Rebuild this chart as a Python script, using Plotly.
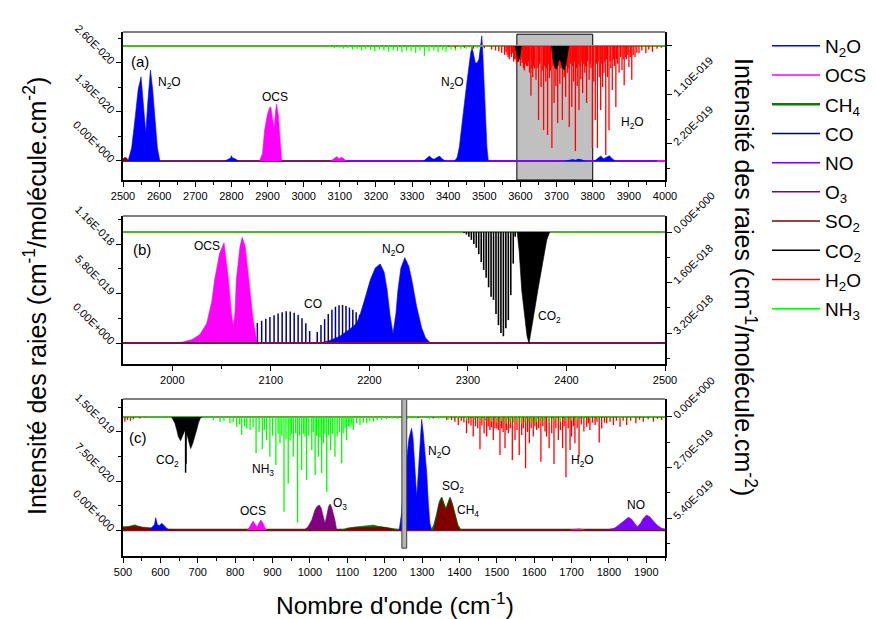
import plotly.graph_objects as go

# ======================= DATA =======================
# units: panel (a) left 1e-20, right 1e-19 ; (b) left 1e-19, right 1e-18 ; (c) left 1e-20, right 1e-19
UA_L, UA_R = 1e-20, 1e-19
UB_L, UB_R = 1e-19, 1e-18
UC_L, UC_R = 1e-20, 1e-19

SPECIES = ["N2O", "OCS", "CH4", "CO", "NO", "O3", "SO2", "CO2", "H2O", "NH3"]
LEGEND_TEXT = ["N<sub>2</sub>O", "OCS", "CH<sub>4</sub>", "CO", "NO", "O<sub>3</sub>",
               "SO<sub>2</sub>", "CO<sub>2</sub>", "H<sub>2</sub>O", "NH<sub>3</sub>"]
COLORS = {"N2O": "#0000FF", "OCS": "#FF00FF", "CH4": "#008000", "CO": "#000080", "NO": "#8000FF",
          "O3": "#800080", "SO2": "#800000", "CO2": "#000000", "H2O": "#FF0000", "NH3": "#00FF00"}

# ---------- panel (a) ----------
A_N2O_1_X = [2514, 2524, 2533, 2542, 2550, 2556, 2563, 2569, 2576, 2582, 2588, 2595, 2602]
A_N2O_1_V = [0, 0.35, 1.09, 1.9, 2.23, 1.5, 0.74, 1.6, 2.41, 1.9, 1.09, 0.35, 0]
A_N2O_2_X = [2782, 2792, 2798, 2800, 2803, 2810, 2820]
A_N2O_2_V = [0, 0.05, 0.08, 0.14, 0.08, 0.06, 0]
A_N2O_3_X = [3332, 3340, 3348, 3356, 3362, 3370, 3376, 3384, 3392]
A_N2O_3_V = [0, 0.07, 0.13, 0.06, 0.05, 0.1, 0.13, 0.05, 0]
A_N2O_4_X = [3418, 3425, 3431, 3438, 3445, 3452, 3458, 3462, 3466, 3470, 3475, 3480, 3485, 3489,
             3493, 3496, 3500, 3504, 3507, 3511]
A_N2O_4_V = [0, 0.1, 0.38, 0.9, 1.54, 2.1, 2.6, 2.85, 3.02, 2.8, 2.6, 2.6, 2.7, 3.0, 3.32, 2.8,
             1.97, 1.0, 0.38, 0]
A_N2O_5_X = [3725, 3735, 3745, 3752, 3760, 3770, 3778]
A_N2O_5_V = [0, 0.02, 0.04, 0.02, 0.05, 0.03, 0]
A_N2O_6_X = [3805, 3815, 3822, 3830, 3840, 3846, 3855, 3862]
A_N2O_6_V = [0, 0.08, 0.13, 0.06, 0.1, 0.14, 0.05, 0]
A_OCS_1_X = [2878, 2886, 2892, 2900, 2906, 2909, 2914, 2918, 2922, 2925, 2930, 2934, 2939]
A_OCS_1_V = [0, 0.2, 0.82, 1.25, 1.42, 1.43, 1.1, 0.85, 1.3, 1.51, 1.2, 0.64, 0]
A_OCS_2_X = [3075, 3085, 3092, 3098, 3104, 3110, 3118]
A_OCS_2_V = [0, 0.08, 0.12, 0.06, 0.1, 0.07, 0]
A_SO2_X = [2500, 2505, 2510, 2516]
A_SO2_V = [0.05, 0.1, 0.08, 0]
A_O3_BASE_X = [2500, 3100]
A_NO_BASE_X = [3100, 3980]
A_OCS_BASE_X = [3980, 4000]
A_NH3_BASE_X = [2500, 4000]
A_CO2_1_X = [3585, 3590, 3594, 3598, 3603]
A_CO2_1_V = [0, 0.25, 0.35, 0.25, 0]
A_CO2_2_X = [3686, 3690, 3695, 3700, 3705, 3710, 3716, 3722, 3728, 3734]
A_CO2_2_V = [0, 0.3, 0.48, 0.52, 0.35, 0.3, 0.5, 0.54, 0.3, 0]
A_H2O_POS = [3402, 3420, 3445, 3470, 3500, 3520, 3531, 3540, 3548, 3556, 3560, 3566, 3571, 3578,
             3584, 3592, 3597, 3605, 3611, 3617, 3625, 3629, 3634, 3639, 3643, 3650, 3657, 3664,
             3670, 3675, 3680, 3687, 3693, 3698, 3703, 3709, 3716, 3721, 3725, 3730, 3735, 3742,
             3747, 3752, 3757, 3762, 3767, 3772, 3778, 3783, 3790, 3795, 3799, 3803, 3807, 3813,
             3818, 3822, 3827, 3831, 3836, 3841, 3845, 3850, 3854, 3860, 3864, 3869, 3873, 3881,
             3887, 3893, 3900, 3908, 3917, 3922, 3928, 3936, 3947, 3955, 3965, 3978, 3990,
             3563, 3569, 3575, 3581, 3587, 3589, 3595, 3600, 3602, 3608, 3614, 3620, 3622, 3631,
             3636, 3646, 3653, 3660, 3667, 3672, 3677, 3683, 3690, 3695, 3700, 3706, 3712, 3719,
             3727, 3732, 3738, 3744, 3750, 3755, 3760, 3765, 3770, 3775, 3780, 3786, 3793, 3801,
             3810, 3815, 3825, 3833, 3838, 3848, 3857, 3866, 3877, 3884, 3890, 3897, 3904, 3912]
A_H2O_INT = [0.03, 0.05, 0.04, 0.06, 0.05, 0.08, 0.1, 0.12, 0.15, 0.2, 0.13, 0.25, 0.18, 0.16,
             0.3, 0.36, 0.28, 0.38, 0.55, 0.45, 0.6, 1.12, 0.7, 0.5, 0.76, 1.66, 0.92, 1.89,
             0.8, 2.0, 0.72, 2.29, 1.28, 0.9, 1.73, 0.85, 1.66, 0.7, 1.14, 0.6, 1.82, 1.37,
             0.8, 2.36, 0.9, 1.44, 0.75, 1.06, 0.6, 1.28, 0.76, 0.5, 2.29, 0.8, 1.66, 2.29,
             0.7, 1.44, 0.92, 0.6, 2.45, 0.7, 1.89, 0.5, 0.99, 0.45, 1.37, 0.4, 0.6, 0.54,
             0.88, 0.3, 0.47, 0.76, 0.25, 0.15, 0.16, 0.1, 0.16, 0.08, 0.13, 0.06, 0.04,
             0.2, 0.3, 0.25, 0.35, 0.3, 0.4, 0.35, 0.45, 0.3, 0.5, 0.4, 0.45, 0.35, 0.5,
             0.45, 0.5, 0.4, 0.55, 0.45, 0.5, 0.4, 0.55, 0.45, 0.5, 0.4, 0.45, 0.5, 0.4,
             0.45, 0.5, 0.4, 0.45, 0.35, 0.5, 0.4, 0.45, 0.35, 0.4, 0.45, 0.35, 0.4, 0.45,
             0.4, 0.35, 0.4, 0.35, 0.3, 0.35, 0.3, 0.3, 0.25, 0.3, 0.25, 0.2, 0.25, 0.2]
A_NH3_POS = [3070, 3085, 3098, 3110, 3122, 3135, 3148, 3160, 3172, 3185, 3197, 3210, 3222, 3235,
             3248, 3260, 3272, 3285, 3297, 3310, 3322, 3334, 3347, 3360, 3372, 3385, 3394, 3408,
             3420, 3435, 3450, 3465, 3480, 3500, 3520, 3545]
A_NH3_INT = [0.03, 0.05, 0.04, 0.06, 0.05, 0.08, 0.06, 0.1, 0.07, 0.09, 0.12, 0.08, 0.1, 0.13,
             0.09, 0.11, 0.14, 0.1, 0.12, 0.15, 0.1, 0.22, 0.12, 0.1, 0.14, 0.09, 0.13, 0.08,
             0.1, 0.07, 0.06, 0.08, 0.05, 0.04, 0.05, 0.03]

# ---------- panel (b) ----------
B_OCS_X = [1995, 2010, 2020, 2028, 2035, 2040, 2043, 2048, 2052.5, 2057, 2060, 2062, 2063.6, 2065,
           2068.7, 2071, 2074, 2077, 2082, 2086]
B_OCS_V = [0, 0.1, 0.4, 1.0, 2.3, 4.8, 7.4, 10.5, 11.75, 7.4, 3.5, 1.9, 3.5, 7.4, 11.3, 12.38,
           11.3, 8.2, 2.7, 0]
B_CO_POS = [2046.1, 2050.7, 2055.3, 2059.8, 2064.3, 2068.8, 2073.2, 2077.6, 2082.0, 2086.3, 2090.7,
            2094.9, 2099.1, 2103.3, 2107.4, 2111.5, 2115.6, 2119.7, 2123.7, 2127.7, 2131.6, 2135.5,
            2139.4, 2147.1, 2150.9, 2154.6, 2158.3, 2162.0, 2165.6, 2169.2, 2172.8, 2176.3, 2179.8,
            2183.2, 2186.6, 2190.0, 2193.4, 2196.7, 2200.0, 2203.3, 2206.5, 2209.7, 2212.8, 2216.0,
            2219.1, 2222.2, 2225.2]
B_CO_INT = [0.3, 0.45, 0.65, 0.85, 1.1, 1.35, 1.6, 1.85, 2.1, 2.35, 2.6, 2.85, 3.05, 3.25, 3.45,
            3.6, 3.72, 3.7, 3.55, 3.3, 2.9, 2.3, 1.4, 1.3, 2.1, 2.8, 3.4, 3.9, 4.25, 4.42, 4.45,
            4.35, 4.15, 3.9, 3.6, 3.3, 2.95, 2.6, 2.25, 1.95, 1.65, 1.4, 1.15, 0.95, 0.75, 0.6, 0.45]
B_N2O_X = [2150, 2160, 2170, 2180, 2187, 2190, 2195, 2201, 2206, 2211, 2215, 2218, 2221, 2224,
           2227, 2229, 2232, 2236, 2240, 2243, 2248, 2253, 2257, 2262]
B_N2O_V = [0, 0.3, 0.8, 1.6, 2.3, 3.1, 5.0, 7.4, 8.8, 9.26, 8.3, 6.2, 3.2, 1.1, 3.5, 6.2, 8.8,
           10.0, 9.0, 7.4, 4.25, 1.8, 0.6, 0]
B_CO2_P_POS = [2296, 2298.5, 2301, 2303.5, 2306, 2308.5, 2311, 2313.5, 2316, 2318.5, 2321, 2323.5,
               2326, 2328.5, 2331, 2333.5, 2336, 2338.5, 2341, 2343.5, 2346, 2348]
B_CO2_P_INT = [0.03, 0.08, 0.15, 0.25, 0.38, 0.5, 0.7, 0.95, 1.2, 1.45, 1.75, 2.05, 2.15, 2.6,
               2.95, 3.2, 3.3, 3.05, 2.79, 2.0, 1.0, 0.15]
B_CO2_R_X = [2350, 2352, 2354.6, 2358, 2360, 2362, 2364, 2366, 2371, 2376.5, 2380, 2383]
B_CO2_R_V = [0, 0.6, 1.84, 2.89, 3.3, 3.53, 3.2, 2.79, 1.84, 0.78, 0.25, 0]
B_O3_BASE_X = [1950, 2500]
B_NH3_BASE_X = [1950, 2500]

# ---------- panel (c) ----------
C_N2O_1_X = [570, 578, 584, 587.5, 592, 598, 603.5, 610, 618, 624]
C_N2O_1_V = [0, 0.4, 0.8, 1.88, 0.8, 0.7, 1.03, 0.7, 0.2, 0]
C_N2O_2_X = [1239, 1245, 1250, 1255, 1259, 1265, 1272, 1276, 1279, 1283, 1285.7, 1288, 1292, 1296,
             1299, 1303, 1308, 1312.5, 1317, 1321, 1326]
C_N2O_2_V = [0, 2.5, 6.1, 9.0, 11.2, 14.0, 15.57, 14.0, 11.2, 7.0, 5.1, 7.0, 11.2, 15.0, 16.94,
             15.0, 12.0, 8.7, 4.0, 1.0, 0]
C_OCS_1_X = [831, 837, 843, 848.6, 853, 859, 864, 869, 875, 880, 884.4]
C_OCS_1_V = [0, 0.3, 0.9, 1.38, 0.9, 0.51, 1.1, 1.53, 1.0, 0.3, 0]
C_OCS_2_X = [1695, 1705, 1712, 1720, 1728, 1735]
C_OCS_2_V = [0, 0.1, 0.15, 0.2, 0.1, 0]
C_O3_X = [985, 995, 1005, 1010, 1013.6, 1019, 1025, 1030, 1035, 1040.4, 1045, 1050, 1054, 1058,
          1063, 1067, 1071.7]
C_O3_V = [0, 0.5, 1.53, 2.4, 3.06, 3.6, 3.83, 3.4, 2.0, 1.03, 2.2, 3.6, 3.98, 3.5, 2.4, 1.53, 0]
C_CH4_X = [1326, 1332, 1339, 1346, 1352.5, 1358, 1364, 1370, 1375, 1381, 1388, 1396, 1404]
C_CH4_V = [0, 0.8, 2.3, 4.2, 5.0, 4.0, 3.2, 4.2, 5.0, 4.0, 2.3, 0.7, 0]
C_SO2_X = [1330, 1335, 1339, 1346, 1352.5, 1358, 1364, 1370, 1375, 1381, 1388, 1395, 1401.6]
C_SO2_V = [0, 0.9, 2.04, 3.9, 4.85, 3.8, 3.06, 4.0, 4.85, 3.8, 2.04, 0.6, 0]
C_CH4_LOW1_X = [500, 515, 525, 532, 540, 548, 560]
C_CH4_LOW1_V = [0.5, 0.55, 0.7, 0.8, 0.6, 0.5, 0]
C_SO2_LOW1_X = [500, 510, 520, 530, 540, 550, 560, 575, 600, 630, 640]
C_SO2_LOW1_V = [0.35, 0.45, 0.55, 0.6, 0.5, 0.45, 0.4, 0.3, 0.2, 0.1, 0]
C_CH4_LOW2_X = [1085, 1100, 1120, 1140, 1160, 1170, 1180, 1195, 1210, 1225, 1240]
C_CH4_LOW2_V = [0, 0.3, 0.45, 0.55, 0.7, 0.75, 0.6, 0.5, 0.4, 0.2, 0]
C_SO2_LOW2_X = [1090, 1110, 1130, 1150, 1170, 1190, 1210, 1230]
C_SO2_LOW2_V = [0, 0.3, 0.4, 0.45, 0.5, 0.45, 0.3, 0]
C_NO_X = [1795, 1805, 1815, 1825, 1835, 1845, 1852, 1860, 1868, 1876, 1884, 1892, 1901, 1910,
          1920, 1930, 1940, 1950]
C_NO_V = [0, 0.1, 0.3, 0.7, 1.2, 1.7, 1.94, 1.7, 1.0, 0.5, 1.0, 1.8, 2.3, 2.0, 1.3, 0.7, 0.3, 0.1]
C_SO2_BASE_X = [500, 1950]
C_NH3_BASE_X = [500, 1950]
C_CO2_X = [630, 635, 639, 644, 648, 654, 660, 666, 672, 677, 681, 686, 692.6, 697, 701.5, 706, 711]
C_CO2_V = [0, 0.15, 0.34, 0.7, 1.05, 1.27, 0.95, 0.69, 1.0, 1.45, 1.69, 1.45, 1.05, 0.7, 0.34, 0.1, 0]
C_CO2_Q_POS = [667.5, 668.5]
C_CO2_Q_INT = [2.98, 2.5]
C_NH3_POS = [520, 560, 600, 640, 700, 720, 741.6, 759.5, 770, 786, 795, 804, 812, 817.5, 825, 831,
             840, 848, 856, 864, 872.7, 878, 884, 893, 900, 909, 915, 920, 925, 930.7, 936, 942,
             947, 951, 955.6, 962, 967, 972, 978, 983, 987, 991, 997, 1005, 1009, 1014, 1018,
             1022.5, 1027, 1031.5, 1036, 1040, 1045, 1050, 1055.6, 1061, 1067, 1073, 1079, 1085,
             1089, 1094, 1098, 1103, 1107, 1112, 1116, 1125, 1134, 1143, 1152, 1160, 1170, 1180,
             1192, 1205, 1220, 1235, 1262, 1285, 1320, 1345, 1370, 1395, 1420, 1440, 1455, 1470,
             1485, 1500, 1512, 1525, 1535, 1545, 1555, 1565, 1575, 1585, 1595, 1605, 1615, 1625,
             1640, 1655, 1670, 1685, 1700, 1715, 1730, 1750, 1770, 1800, 1830, 1860]
C_NH3_INT = [0.03, 0.03, 0.05, 0.04, 0.06, 0.08, 0.16, 0.25, 0.2, 0.34, 0.25, 0.52, 0.4, 0.96,
             0.5, 0.61, 0.69, 0.55, 1.94, 0.8, 1.73, 0.7, 1.23, 2.12, 1.0, 2.57, 0.9, 1.41, 1.0,
             5.06, 1.2, 3.55, 1.23, 0.9, 2.12, 0.87, 5.65, 1.0, 2.83, 0.9, 1.05, 3.37, 1.0, 1.76,
             0.8, 3.1, 1.0, 2.12, 1.1, 3.0, 1.41, 0.9, 3.99, 1.0, 1.76, 0.9, 2.12, 1.05, 0.8, 2.48,
             0.87, 0.6, 1.23, 0.5, 0.52, 0.4, 0.69, 0.35, 0.43, 0.3, 0.34, 0.2, 0.25, 0.18, 0.15,
             0.12, 0.08, 0.1, 0.1, 0.08, 0.12, 0.1, 0.15, 0.12, 0.18, 0.15, 0.22, 0.2, 0.25, 0.3,
             0.22, 0.35, 0.28, 0.3, 0.25, 0.35, 0.3, 0.28, 0.35, 0.25, 0.3, 0.22, 0.3, 0.2, 0.25,
             0.18, 0.2, 0.15, 0.12, 0.1, 0.08, 0.06, 0.05, 0.04]
C_H2O_POS = [505, 512, 520, 528, 545, 560, 1290, 1330, 1366, 1379, 1388, 1397, 1405, 1412, 1419,
             1425, 1431, 1437, 1443, 1449, 1455, 1460, 1466, 1473, 1477, 1481.6, 1486, 1490.6, 1495,
             1500, 1504, 1508.5, 1513, 1517, 1522, 1526, 1531, 1536, 1541.5, 1548.7, 1554, 1560,
             1566.6, 1571, 1577, 1582, 1587, 1592, 1597.6, 1602, 1606.6, 1612, 1618, 1623, 1629,
             1633, 1640, 1647, 1653, 1658, 1664.6, 1670, 1676, 1680, 1685, 1691, 1696, 1700, 1705,
             1709, 1715, 1720, 1726, 1733, 1740.5, 1745, 1749, 1756, 1763, 1768, 1774, 1780.6, 1788,
             1794, 1803, 1812, 1820, 1829.6, 1838, 1847.5, 1858, 1872, 1882, 1892, 1905, 1919, 1930,
             1941]
C_H2O_INT = [0.25, 0.15, 0.2, 0.12, 0.08, 0.06, 0.05, 0.08, 0.16, 0.16, 0.25, 0.43, 0.2, 0.3, 0.87,
             0.35, 0.45, 1.05, 0.5, 0.6, 1.73, 0.45, 0.87, 1.05, 0.5, 0.69, 0.55, 1.23, 0.6, 0.61,
             0.7, 2.03, 0.6, 0.8, 1.67, 0.7, 0.87, 0.6, 2.3, 1.23, 0.7, 2.03, 0.96, 0.6, 2.74, 0.8,
             1.41, 0.6, 1.05, 0.5, 0.69, 0.6, 2.39, 0.5, 0.78, 1.05, 1.67, 0.87, 2.51, 0.6, 1.23,
             0.7, 1.67, 0.5, 3.22, 0.6, 1.76, 1.05, 0.5, 1.41, 0.6, 2.12, 0.4, 0.78, 0.52, 0.35,
             0.69, 0.3, 0.43, 0.25, 1.37, 0.61, 0.3, 0.34, 0.25, 0.43, 0.2, 0.52, 0.2, 0.43, 0.2,
             0.34, 0.15, 0.25, 0.12, 0.25, 0.1, 0.16]

# tick labels
A_XTICKS = list(range(2500, 4001, 100))
B_XTICKS = list(range(2000, 2501, 100))
C_XTICKS = list(range(500, 1901, 100))
A_L_TICKS, A_L_TEXT = [0, 1.3, 2.6], ["0.00E+000", "1.30E-020", "2.60E-020"]
A_R_TICKS, A_R_TEXT = [0, 1.1, 2.2], ["0.00E+000", "1.10E-019", "2.20E-019"]
B_L_TICKS, B_L_TEXT = [0, 5.8, 11.6], ["0.00E+000", "5.80E-019", "1.16E-018"]
B_R_TICKS, B_R_TEXT = [0, 1.6, 3.2], ["0.00E+000", "1.60E-018", "3.20E-018"]
C_L_TICKS, C_L_TEXT = [0, 7.5, 15], ["0.00E+000", "7.50E-020", "1.50E-019"]
C_R_TICKS, C_R_TEXT = [0, 2.7, 5.4], ["0.00E+000", "2.70E-019", "5.40E-019"]

# ======================= FIGURE =======================
FONT = "Arial, Liberation Sans, sans-serif"
traces = []


def band(x, v, unit, xa, ya, sp, lw=0.6):
    c = COLORS[sp]
    return go.Scatter(x=x, y=[t * unit for t in v], xaxis=xa, yaxis=ya, mode="lines",
                      line=dict(color=c, width=lw), fill="tozeroy", fillcolor=c,
                      showlegend=False, hoverinfo="skip")


def sticks(pos, val, unit, xa, ya, sp, lw=1.3):
    xs, ys = [], []
    for p, t in zip(pos, val):
        xs += [p, p, None]
        ys += [0, t * unit, None]
    return go.Scatter(x=xs, y=ys, xaxis=xa, yaxis=ya, mode="lines",
                      line=dict(color=COLORS[sp], width=lw), showlegend=False, hoverinfo="skip")


def base(xr, xa, ya, color, lw=2):
    return go.Scatter(x=xr, y=[0, 0], xaxis=xa, yaxis=ya, mode="lines",
                      line=dict(color=color, width=lw), showlegend=False, hoverinfo="skip")


# panel (a) left
traces += [base(A_O3_BASE_X, "x", "y", "#7a1a5a"), base(A_NO_BASE_X, "x", "y", "#8000FF"),
           base(A_OCS_BASE_X, "x", "y", "#FF00FF"),
           band(A_SO2_X, A_SO2_V, UA_L, "x", "y", "SO2"),
           band(A_N2O_1_X, A_N2O_1_V, UA_L, "x", "y", "N2O"),
           band(A_N2O_2_X, A_N2O_2_V, UA_L, "x", "y", "N2O"),
           band(A_N2O_3_X, A_N2O_3_V, UA_L, "x", "y", "N2O"),
           band(A_N2O_4_X, A_N2O_4_V, UA_L, "x", "y", "N2O"),
           band(A_N2O_5_X, A_N2O_5_V, UA_L, "x", "y", "N2O"),
           band(A_N2O_6_X, A_N2O_6_V, UA_L, "x", "y", "N2O"),
           band(A_OCS_1_X, A_OCS_1_V, UA_L, "x", "y", "OCS"),
           band(A_OCS_2_X, A_OCS_2_V, UA_L, "x", "y", "OCS")]
# panel (a) right
traces += [base(A_NH3_BASE_X, "x", "y2", "#55b030"),
           sticks(A_NH3_POS, A_NH3_INT, UA_R, "x", "y2", "NH3", 1.2),
           sticks(A_H2O_POS, A_H2O_INT, UA_R, "x", "y2", "H2O", 1.3),
           band(A_CO2_1_X, A_CO2_1_V, UA_R, "x", "y2", "CO2"),
           band(A_CO2_2_X, A_CO2_2_V, UA_R, "x", "y2", "CO2")]
# panel (b) left
traces += [sticks(B_CO_POS, B_CO_INT, UB_L, "x2", "y3", "CO", 1.5),
           band(B_OCS_X, B_OCS_V, UB_L, "x2", "y3", "OCS"),
           band(B_N2O_X, B_N2O_V, UB_L, "x2", "y3", "N2O"),
           base(B_O3_BASE_X, "x2", "y3", "#7a1050")]
# panel (b) right
traces += [base(B_NH3_BASE_X, "x2", "y4", "#55b030"),
           sticks(B_CO2_P_POS, B_CO2_P_INT, UB_R, "x2", "y4", "CO2", 1.6),
           band(B_CO2_R_X, B_CO2_R_V, UB_R, "x2", "y4", "CO2")]
# panel (c) left
traces += [base(C_SO2_BASE_X, "x3", "y5", "#6a1a1a", 2.5),
           band(C_CH4_LOW1_X, C_CH4_LOW1_V, UC_L, "x3", "y5", "CH4"),
           band(C_SO2_LOW1_X, C_SO2_LOW1_V, UC_L, "x3", "y5", "SO2"),
           band(C_CH4_LOW2_X, C_CH4_LOW2_V, UC_L, "x3", "y5", "CH4"),
           band(C_SO2_LOW2_X, C_SO2_LOW2_V, UC_L, "x3", "y5", "SO2"),
           band(C_N2O_1_X, C_N2O_1_V, UC_L, "x3", "y5", "N2O"),
           band(C_OCS_1_X, C_OCS_1_V, UC_L, "x3", "y5", "OCS"),
           band(C_OCS_2_X, C_OCS_2_V, UC_L, "x3", "y5", "OCS"),
           band(C_O3_X, C_O3_V, UC_L, "x3", "y5", "O3"),
           band(C_N2O_2_X, C_N2O_2_V, UC_L, "x3", "y5", "N2O"),
           band(C_CH4_X, C_CH4_V, UC_L, "x3", "y5", "CH4", 1.2),
           band(C_SO2_X, C_SO2_V, UC_L, "x3", "y5", "SO2"),
           band(C_NO_X, C_NO_V, UC_L, "x3", "y5", "NO")]
# panel (c) right
traces += [base(C_NH3_BASE_X, "x3", "y6", "#55b030"),
           sticks(C_H2O_POS, C_H2O_INT, UC_R, "x3", "y6", "H2O", 1.3),
           sticks(C_NH3_POS, C_NH3_INT, UC_R, "x3", "y6", "NH3", 1.3),
           band(C_CO2_X, C_CO2_V, UC_R, "x3", "y6", "CO2"),
           sticks(C_CO2_Q_POS, C_CO2_Q_INT, UC_R, "x3", "y6", "CO2", 1.5)]

# legend-only traces
for sp, txt in zip(SPECIES, LEGEND_TEXT):
    traces.append(go.Scatter(x=[None], y=[None], xaxis="x", yaxis="y", mode="lines", name=txt,
                             line=dict(color=COLORS[sp], width=2.5 if sp == "CH4" else 1.5),
                             legendgroup=sp, showlegend=True))

fig = go.Figure(data=traces)

# plot-area edges as seen in the screenshot (page body adds an 8 px offset)
OFF = 8
LEFT, RIGHT, TOP, BOTTOM = 123, 665, 32, 556
W, H = RIGHT - LEFT, BOTTOM - TOP


def px_x(p):
    return (p - LEFT) / W


def px_y(p):
    return (BOTTOM - p) / H


def dom(top_px, bot_px):
    return [px_y(bot_px), px_y(top_px)]


def xax(rng, ticks, anchor):
    return dict(range=rng, tickmode="array", tickvals=ticks, ticktext=[str(t) for t in ticks],
                anchor=anchor, domain=[0, 1], showline=True, linecolor="black", linewidth=1.5,
                ticks="outside", ticklen=5, tickwidth=1.2, tickcolor="black",
                minor=dict(ticks="outside", ticklen=3, tickwidth=1, tickcolor="black",
                           tickmode="array", tickvals=[t + 50 for t in ticks]),
                showgrid=False, zeroline=False, tickfont=dict(size=11, color="black", family=FONT))


def yax(rng, ticks, text, minor, unit, side, dmn=None, overlay=None, anchor=None):
    d = dict(range=[r * unit for r in rng], tickmode="array", tickvals=[t * unit for t in ticks],
             ticktext=text, side=side, showline=True, linecolor="black", linewidth=1.5,
             ticks="outside", ticklen=5, tickwidth=1.2, tickcolor="black",
             minor=dict(ticks="outside", ticklen=3, tickwidth=1, tickcolor="black",
                        tickmode="array", tickvals=[m * unit for m in minor]),
             tickangle=45 if side == "left" else -45, showgrid=False, zeroline=False,
             tickfont=dict(size=11, color="black", family=FONT))
    if dmn is not None:
        d["domain"] = dmn
    if overlay:
        d["overlaying"] = overlay
    if anchor:
        d["anchor"] = anchor
    return d


DA, DB, DC = dom(32, 180), dom(216, 364), dom(399, 556)

fig.update_layout(
    width=876, height=619, paper_bgcolor="white", plot_bgcolor="white",
    margin=dict(l=LEFT - OFF, r=876 - (RIGHT - OFF), t=TOP - OFF, b=619 - (BOTTOM - OFF),
                autoexpand=False),
    font=dict(family=FONT, color="black"),
    showlegend=True,
    legend=dict(x=px_x(767), y=px_y(27), xanchor="left", yanchor="top",
                font=dict(size=19, family=FONT), tracegroupgap=1.5, itemwidth=48,
                maxheight=1.0, bgcolor="rgba(0,0,0,0)"),
    xaxis=xax([2500, 4000], A_XTICKS, "y"),
    xaxis2=xax([1950, 2500], B_XTICKS, "y3"),
    xaxis3=xax([500, 1950], C_XTICKS, "y5"),
    yaxis=yax([-0.504, 3.42], A_L_TICKS, A_L_TEXT, [0.65, 1.95, 3.25], UA_L, "left", DA, anchor="x"),
    yaxis2=yax([3.01, -0.314], A_R_TICKS, A_R_TEXT, [0.55, 1.65, 2.75], UA_R, "right",
               overlay="y", anchor="x"),
    yaxis3=yax([-2.46, 14.88], B_L_TICKS, B_L_TEXT, [2.9, 8.7, 14.5], UB_L, "left", DB, anchor="x2"),
    yaxis4=yax([4.18, -0.507], B_R_TICKS, B_R_TEXT, [0.8, 2.4, 4.0], UB_R, "right",
               overlay="y3", anchor="x2"),
    yaxis5=yax([-3.98, 20.05], C_L_TICKS, C_L_TEXT, [3.75, 11.25, 18.75], UC_L, "left", DC, anchor="x3"),
    yaxis6=yax([7.43, -0.96], C_R_TICKS, C_R_TEXT, [1.35, 4.05, 6.75], UC_R, "right",
               overlay="y5", anchor="x3"),
)

# gray highlight boxes and gray top spines
shapes = [
    dict(type="rect", xref="x", yref="y domain", x0=3590, x1=3800, y0=0, y1=0.985,
         fillcolor="#c0c0c0", line=dict(color="black", width=1), layer="below"),
    dict(type="rect", xref="x3", yref="y5 domain", x0=1246, x1=1259, y0=0.05, y1=1,
         fillcolor="#b4b4b4", line=dict(color="#404040", width=1), layer="above"),
]
for xr, yr in [("x", "y"), ("x2", "y3"), ("x3", "y5")]:
    shapes.append(dict(type="line", xref=xr + " domain", yref=yr + " domain", x0=0, x1=1, y0=1, y1=1,
                       line=dict(color="#808080", width=2)))
fig.update_layout(shapes=shapes)

# labels
LAB = [
    ("(a)", "x", "y", 2547, 2.63 * UA_L, 15),
    ("N<sub>2</sub>O", "x", "y", 2630, 2.07 * UA_L, 12),
    ("OCS", "x", "y", 2921, 1.70 * UA_L, 12),
    ("N<sub>2</sub>O", "x", "y", 3411, 2.07 * UA_L, 12),
    ("H<sub>2</sub>O", "x", "y", 3909, 1.01 * UA_L, 12),
    ("(b)", "x2", "y3", 1969, 10.9 * UB_L, 15),
    ("OCS", "x2", "y3", 2035, 11.37 * UB_L, 12),
    ("CO", "x2", "y3", 2143, 4.57 * UB_L, 12),
    ("N<sub>2</sub>O", "x2", "y3", 2224, 10.9 * UB_L, 12),
    ("CO<sub>2</sub>", "x2", "y3", 2383, 3.05 * UB_L, 12),
    ("(c)", "x3", "y5", 540, 14.23 * UC_L, 15),
    ("CO<sub>2</sub>", "x3", "y5", 620, 10.56 * UC_L, 12),
    ("NH<sub>3</sub>", "x3", "y5", 874.5, 9.18 * UC_L, 12),
    ("OCS", "x3", "y5", 848, 2.91 * UC_L, 12),
    ("O<sub>3</sub>", "x3", "y5", 1080.5, 3.98 * UC_L, 12),
    ("N<sub>2</sub>O", "x3", "y5", 1348, 11.94 * UC_L, 12),
    ("SO<sub>2</sub>", "x3", "y5", 1383, 6.58 * UC_L, 12),
    ("CH<sub>4</sub>", "x3", "y5", 1423, 2.91 * UC_L, 12),
    ("H<sub>2</sub>O", "x3", "y5", 1730.6, 10.56 * UC_L, 12),
    ("NO", "x3", "y5", 1872, 3.83 * UC_L, 12),
]
ann = [dict(text=t, xref=xr, yref=yr, x=x, y=y, showarrow=False, xanchor="center", yanchor="middle",
            font=dict(size=s, color="black")) for t, xr, yr, x, y, s in LAB]
TITLE_Y = "Intensité des raies (cm<sup>-1</sup>/molécule.cm<sup>-2</sup>)"
ann += [
    dict(text=TITLE_Y, xref="paper", yref="paper", x=px_x(35), y=px_y(296), textangle=-90,
         xanchor="center", yanchor="middle", showarrow=False, font=dict(size=25)),
    dict(text=TITLE_Y, xref="paper", yref="paper", x=px_x(745), y=px_y(277), textangle=90,
         xanchor="center", yanchor="middle", showarrow=False, font=dict(size=25)),
    dict(text="Nombre d'onde (cm<sup>-1</sup>)", xref="paper", yref="paper", x=px_x(395),
         y=px_y(603), xanchor="center", yanchor="middle", showarrow=False, font=dict(size=24.5)),
]
fig.update_layout(annotations=ann)

fig.write_html("out.html")
